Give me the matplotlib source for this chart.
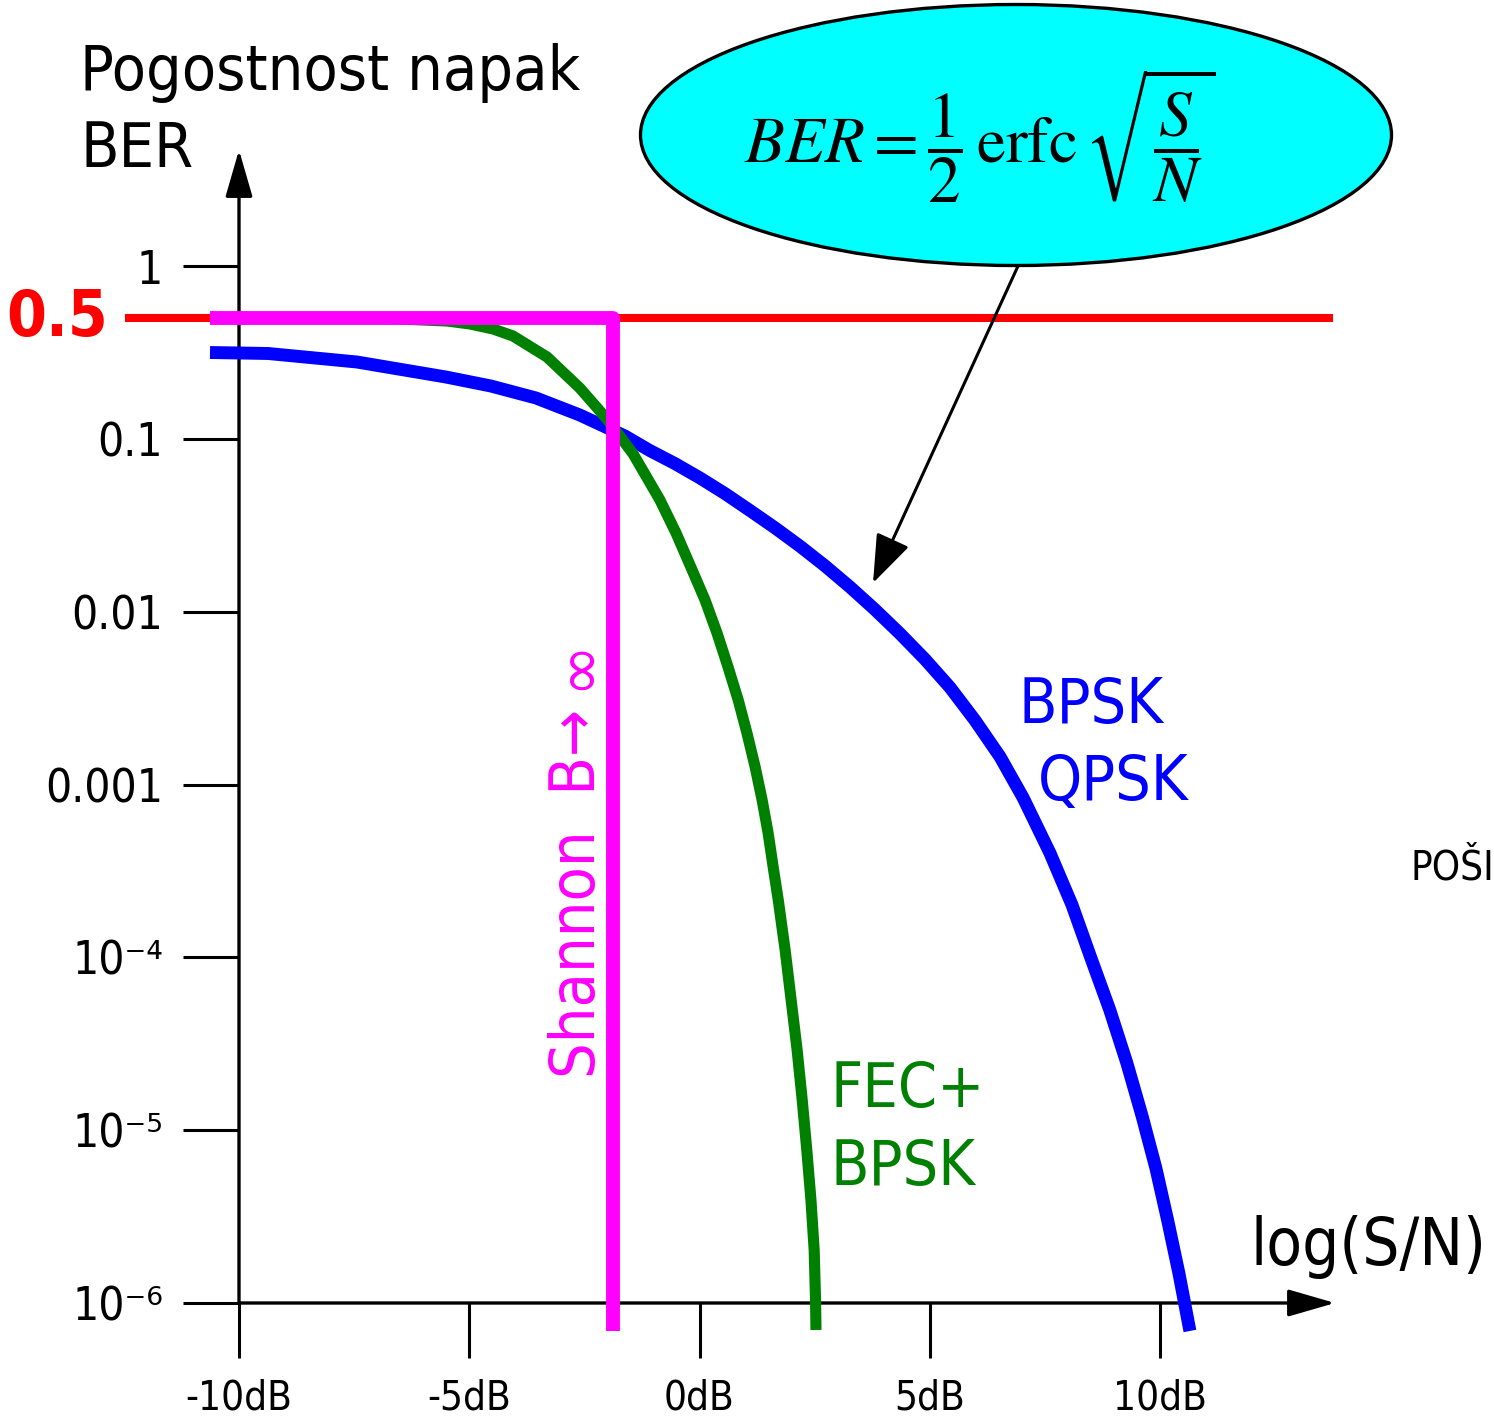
import matplotlib
matplotlib.use("Agg")
import matplotlib.pyplot as plt
from matplotlib import font_manager
from matplotlib.patches import Ellipse

# ---- data -------------------------------------------------------------
# uncoded BPSK / QPSK bit error rate versus S/N (dB)
bpsk_db = [-10.63, -9.37, -7.44, -5.51, -4.53, -3.55, -2.60, -1.62, -1.08,
           -0.53, 0.01, 0.55, 1.10, 1.64, 2.18, 2.73, 3.27, 3.81, 4.35, 4.90,
           5.44, 5.98, 6.53, 7.03, 7.61, 8.09, 8.50, 8.91, 9.28, 9.61, 9.91,
           10.17, 10.41, 10.65]
bpsk_ber = [0.3166, 0.3125, 0.2790, 0.2285, 0.2026, 0.1727, 0.1377, 0.1041,
            0.0858, 0.0720, 0.0595, 0.0484, 0.0385, 0.0306, 0.0240, 0.0184,
            0.0139, 0.0103, 0.00749, 0.00530, 0.00365, 0.00236, 0.001444,
            8.37e-4, 4.02e-4, 2.01e-4, 9.92e-5, 4.96e-5, 2.45e-5, 1.21e-5,
            6.04e-6, 2.98e-6, 1.49e-6, 6.89e-7]

# BPSK with forward error correction
fec_db = [-6.94, -5.48, -4.98, -4.48, -4.05, -3.31, -2.60, -2.01, -1.44,
          -0.86, -0.51, -0.19, 0.12, 0.38, 0.62, 0.84, 1.03, 1.21, 1.36, 1.49,
          1.60, 1.71, 1.86, 1.99, 2.12, 2.23, 2.33, 2.42, 2.49, 2.52, 2.53]
fec_ber = [0.5, 0.4818, 0.4628, 0.4330, 0.3946, 0.2981, 0.1973, 0.1305,
           0.0819, 0.0444, 0.0286, 0.0182, 0.0117, 0.00754, 0.00479, 0.00309,
           0.00199, 0.00126, 8.14e-4, 5.25e-4, 3.33e-4, 2.15e-4, 1.10e-4,
           5.67e-5, 2.91e-5, 1.50e-5, 7.68e-6, 3.95e-6, 2.03e-6, 1.04e-6,
           6.98e-7]

# Shannon limit (B -> infinity)
shannon_db = [-10.63, -1.88, -1.88]
shannon_ber = [0.5, 0.5, 6.9e-7]

# BER = 0.5 reference level
half_db = [-12.48, 13.76]
half_ber = [0.5, 0.5]

y_ticks = [1, 0.1, 0.01, 0.001, 1e-4, 1e-5, 1e-6]
y_labels = ["1", "0.1", "0.01", "0.001", "10\u207b\u2074", "10\u207b\u2075", "10\u207b\u2076"]
x_ticks = [-10, -5, 0, 5, 10]
x_labels = ["-10dB", "-5dB", "0dB", "5dB", "10dB"]

# ---- fonts ------------------------------------------------------------
plt.rcParams["font.family"] = ["DejaVu Sans"]
has_condensed = any(f.name == "DejaVu Sans" and "condensed" in str(f.stretch)
                    for f in font_manager.fontManager.ttflist)
if has_condensed:
    plt.rcParams["font.stretch"] = "condensed"

W, H = 1494, 1422
fig = plt.figure(figsize=(W / 100, H / 100), dpi=100)

# ---- main log axes ----------------------------------------------------
x0, x1 = 239, 1335     # pixel extent of the x axis
y0, y1 = 1303, 150     # pixel extent of the y axis
px_per_db = 46.05
px_per_dec = 172.8
ax = fig.add_axes([x0 / W, (H - y0) / H, (x1 - x0) / W, (y0 - y1) / H])
ax.set_yscale("log")
ax.set_xlim(-10, -10 + (x1 - x0) / px_per_db)
ax.set_ylim(1e-6, 10 ** ((y0 - y1) / px_per_dec - 6))
for s in ax.spines.values():
    s.set_visible(False)
ax.patch.set_visible(False)

ax.set_yticks(y_ticks)
ax.set_yticklabels(y_labels)
ax.yaxis.set_minor_locator(matplotlib.ticker.NullLocator())
ax.set_xticks(x_ticks)
ax.set_xticklabels(x_labels)
ax.tick_params(axis="y", direction="out", length=40.3, width=2.2, pad=14.4,
               labelsize=33, colors="black")
ax.tick_params(axis="x", direction="out", length=39.6, width=2.2, pad=15.0,
               labelsize=29, colors="black")

# axis arrows
arrow_kw = dict(arrowstyle="-|>,head_length=1.45,head_width=0.42", lw=2.4,
                color="black", shrinkA=0, shrinkB=0, mutation_scale=20)
ax.annotate("", xy=(0, 1), xytext=(0, 0), xycoords="axes fraction",
            arrowprops=arrow_kw, annotation_clip=False)
ax.annotate("", xy=(1, 0), xytext=(0, 0), xycoords="axes fraction",
            arrowprops=arrow_kw, annotation_clip=False)

# curves
ax.plot(half_db, half_ber, color="#ff0000", lw=5.8, solid_capstyle="butt",
        clip_on=False, zorder=2)
ax.plot(bpsk_db, bpsk_ber, color="#0000ff", lw=9.3, solid_capstyle="butt",
        solid_joinstyle="round", clip_on=False, zorder=3)
ax.plot(fec_db, fec_ber, color="#008000", lw=8.0, solid_capstyle="butt",
        solid_joinstyle="round", clip_on=False, zorder=4)
ax.plot(shannon_db, shannon_ber, color="#ff00ff", lw=10, solid_capstyle="butt",
        solid_joinstyle="round", clip_on=False, zorder=5)

ax.text(-10 - (x0 - 108) / px_per_db, 0.5, "0.5", color="#ff0000",
        fontsize=46, fontweight="bold", ha="right", va="center")

# ---- overlay in pixel coordinates for labels and the formula bubble ---
ov = fig.add_axes([0, 0, 1, 1])
ov.set_xlim(0, W)
ov.set_ylim(H, 0)
ov.axis("off")

ov.text(80, 90, "Pogostnost napak", fontsize=45, ha="left", va="baseline")
ov.text(80, 167, "BER", fontsize=45, ha="left", va="baseline")
ov.text(1250, 1265, "log(S/N)", fontsize=47, ha="left", va="baseline")

ov.text(1018, 723, "BPSK", color="#0000ff", fontsize=45, ha="left", va="baseline")
ov.text(1038, 800, "QPSK", color="#0000ff", fontsize=45, ha="left", va="baseline")
ov.text(830, 1107, "FEC+", color="#008000", fontsize=45, ha="left", va="baseline")
ov.text(830, 1185, "BPSK", color="#008000", fontsize=45, ha="left", va="baseline")
ov.text(595, 1078, "Shannon  B\u2192", color="#ff00ff", fontsize=45,
        rotation=90, rotation_mode="anchor", ha="left", va="baseline")
ov.text(595, 690, "\u221e", color="#ff00ff", fontsize=45, fontstretch="normal",
        rotation=90, rotation_mode="anchor", ha="left", va="baseline")
ov.text(1410, 880, "PO\u0160I", fontsize=29, ha="left", va="baseline")

bubble = Ellipse((1016, 135), 751, 261, facecolor="#00ffff",
                 edgecolor="black", lw=2.4, zorder=3)
ov.add_patch(bubble)
ov.text(980, 136, r"$BER=\dfrac{1}{2}\,\mathrm{erfc}\,\sqrt{\dfrac{S}{N}}$",
        fontsize=47, math_fontfamily="stix", ha="center", va="center", zorder=4)
ov.annotate("", xy=(873, 583), xytext=(1018, 266),
            arrowprops=dict(arrowstyle="-|>,head_length=1.5,head_width=0.55",
                            lw=2.2, color="black", shrinkA=0, shrinkB=0,
                            mutation_scale=20))

fig.savefig("out.png", dpi=100)
